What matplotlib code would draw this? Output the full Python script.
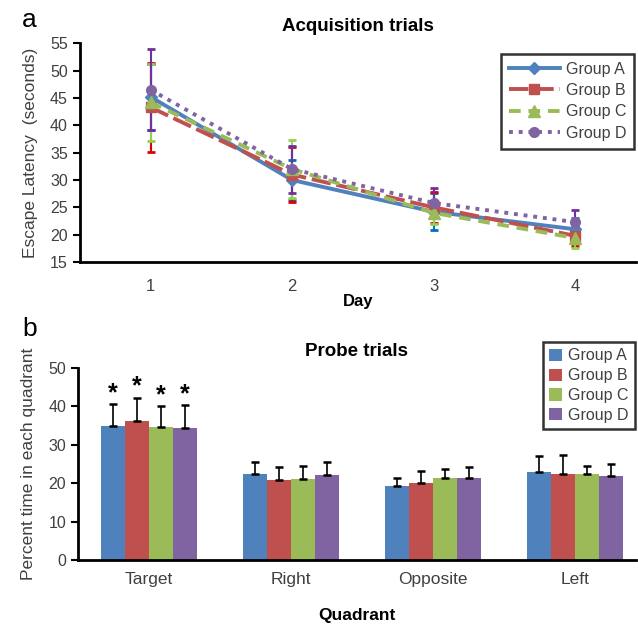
import matplotlib
matplotlib.use("Agg")
import matplotlib.pyplot as plt
import numpy as np

plt.rcParams['font.family'] = ['Liberation Sans', 'DejaVu Sans']

# acquisition trials (escape latency, s)
days = [1, 2, 3, 4]
groups = ['Group A', 'Group B', 'Group C', 'Group D']
lat_a = [45.2, 30.0, 24.2, 21.0]
lat_b = [43.3, 31.0, 25.0, 19.8]
lat_c = [44.2, 32.0, 24.0, 19.4]
lat_d = [46.5, 32.0, 25.8, 22.3]
err_a = [6.0, 3.7, 3.4, 2.0]
err_b = [8.1, 5.0, 2.8, 1.8]
err_c = [7.0, 5.3, 2.0, 1.9]
err_d = [7.4, 4.3, 2.8, 2.2]

# probe trials (percent time per quadrant)
quadrants = ['Target', 'Right', 'Opposite', 'Left']
pct_a = [34.9, 22.4, 19.3, 22.9]
pct_b = [36.2, 20.7, 20.1, 22.3]
pct_c = [34.6, 21.0, 21.4, 22.3]
pct_d = [34.4, 22.0, 21.4, 21.8]
sd_a = [5.7, 3.2, 2.1, 4.3]
sd_b = [6.1, 3.4, 3.1, 5.1]
sd_c = [5.4, 3.4, 2.4, 2.3]
sd_d = [6.0, 3.6, 2.7, 3.2]
signif = ['*', '', '', '']

cols = ['#4F81BD', '#C0504D', '#9BBB59', '#8064A2']
ecols = ['#0070C0', '#E00000', '#92D050', '#7030A0']
txtcol = '#404040'

fig = plt.figure(figsize=(6.38, 6.27), dpi=100)

# ---------- panel a ----------
ax1 = fig.add_axes([0.125, 0.582, 0.872, 0.349])
lats = [lat_a, lat_b, lat_c, lat_d]
errs = [err_a, err_b, err_c, err_d]
styles = [dict(ls='-', marker='D', ms=6),
          dict(ls=(0, (5, 1.5)), marker='s', ms=7),
          dict(ls=(0, (3, 2)), marker='^', ms=8),
          dict(ls=(0, (1, 1.5)), marker='o', ms=7)]
for i in range(4):
    ax1.errorbar(days, lats[i], yerr=errs[i], fmt='none', ecolor=ecols[i],
                 elinewidth=1.5, capsize=3, capthick=2, zorder=2)
for i in range(4):
    ax1.plot(days, lats[i], color=cols[i], lw=2.8, label=groups[i],
             mfc=cols[i], mec=cols[i], zorder=3, **styles[i])

ax1.set_xlim(0.5, 4.43)
ax1.set_ylim(15, 55)
ax1.set_yticks(range(15, 56, 5))
ax1.set_xticks(days)
ax1.tick_params(axis='x', length=0, pad=12, labelsize=12, labelcolor=txtcol)
ax1.tick_params(axis='y', length=5, width=1.5, labelsize=11.5, labelcolor=txtcol)
for s in ['top', 'right']:
    ax1.spines[s].set_visible(False)
for s in ['left', 'bottom']:
    ax1.spines[s].set_linewidth(2)
ax1.set_xlabel('Day', fontweight='bold', fontsize=12, labelpad=0)
ax1.set_ylabel('Escape Latency  (seconds)', fontsize=12.5, color=txtcol, labelpad=9)
ax1.set_title('Acquisition trials', fontweight='bold', fontsize=13.5, pad=9)
leg1 = ax1.legend(loc='upper right', bbox_to_anchor=(1.0, 0.96), frameon=True,
                  fancybox=False, edgecolor='black', fontsize=11.5, handlelength=3.2,
                  labelspacing=0.4, borderpad=0.5, handletextpad=0.4, borderaxespad=0.1)
leg1.get_frame().set_linewidth(1.8)
for t in leg1.get_texts():
    t.set_color(txtcol)

# ---------- panel b ----------
ax2 = fig.add_axes([0.122, 0.107, 0.875, 0.306])
x = np.arange(len(quadrants))
w = 0.17
pcts = [pct_a, pct_b, pct_c, pct_d]
sds = [sd_a, sd_b, sd_c, sd_d]
for i in range(4):
    xs = x + (i - 1.5) * w
    ax2.bar(xs, pcts[i], w, color=cols[i], label=groups[i], zorder=2)
    ax2.errorbar(xs, pcts[i], yerr=[np.zeros(4), sds[i]], fmt='none',
                 ecolor='black', elinewidth=1.2, capsize=3, capthick=1.8, zorder=3)
    for j in range(4):
        if signif[j]:
            ax2.text(xs[j], pcts[i][j] + sds[i][j] - 0.3, signif[j], ha='center',
                     va='bottom', fontsize=18, fontweight='bold')

ax2.set_xlim(-0.5, 3.43)
ax2.set_ylim(0, 50)
ax2.set_yticks(range(0, 51, 10))
ax2.set_xticks(x)
ax2.set_xticklabels(quadrants)
ax2.tick_params(axis='x', length=0, pad=9, labelsize=12.5, labelcolor=txtcol)
ax2.tick_params(axis='y', length=5, width=1.5, labelsize=11.5, labelcolor=txtcol)
for s in ['top', 'right']:
    ax2.spines[s].set_visible(False)
for s in ['left', 'bottom']:
    ax2.spines[s].set_linewidth(2)
ax2.set_xlabel('Quadrant', fontweight='bold', fontsize=12.5, labelpad=15)
ax2.set_ylabel('Percent time in each quadrant', fontsize=12.5, color=txtcol, labelpad=9)
ax2.set_title('Probe trials', fontweight='bold', fontsize=13.5, pad=9)
leg2 = ax2.legend(loc='upper right', bbox_to_anchor=(1.0, 1.14), frameon=True,
                  fancybox=False, edgecolor='black', fontsize=11.5, handlelength=0.8,
                  handleheight=0.8, labelspacing=0.3, borderpad=0.4, handletextpad=0.4,
                  borderaxespad=0.05)
leg2.get_frame().set_linewidth(1.8)
for t in leg2.get_texts():
    t.set_color(txtcol)

fig.text(0.035, 0.968, 'a', fontsize=19, va='center')
fig.text(0.035, 0.475, 'b', fontsize=19, va='center')

fig.savefig('out.png', dpi=100)
